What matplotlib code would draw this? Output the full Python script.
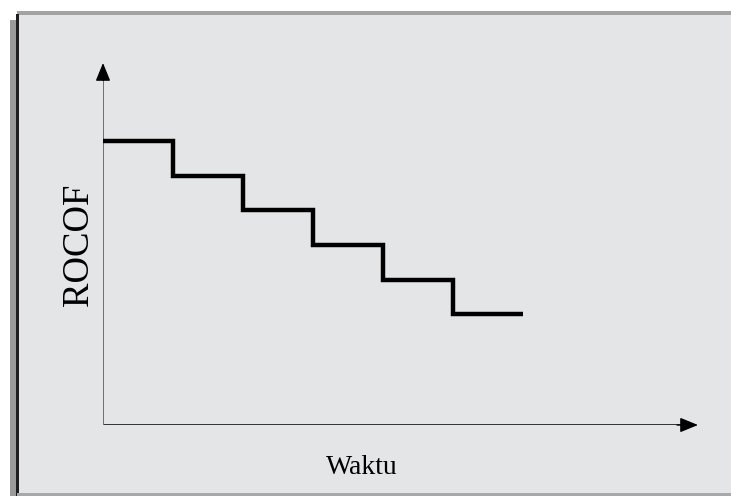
import matplotlib
matplotlib.use("Agg")
import matplotlib.pyplot as plt
from matplotlib.patches import Rectangle

# data: ROCOF turun bertahap terhadap waktu
waktu = [0, 1, 2, 3, 4, 5, 6]
rocof = [8.2, 7.2, 6.2, 5.2, 4.2, 3.2, 3.2]
x_max = 8.5
y_max = 10.45

W, H = 731, 496
fig = plt.figure(figsize=(W / 100, H / 100), dpi=100)
fig.patch.set_facecolor("white")

# latar panel abu-abu dengan bayangan
bg = fig.add_axes([0, 0, 1, 1])
bg.set_xlim(0, W)
bg.set_ylim(H, 0)
bg.axis("off")
bg.add_patch(Rectangle((10, 20), 7, H - 20, color="#9a9a9a", lw=0))
bg.add_patch(Rectangle((17, 13), W - 17, H - 13, color="#e4e5e6", lw=0))
bg.add_patch(Rectangle((17, 11), W - 17, 4, color="#a3a3a3", lw=0))
bg.add_patch(Rectangle((16, 14), 2.5, H - 14, color="#1e1e1e", lw=0))
bg.add_patch(Rectangle((17, 493), W - 17, 3, color="#a8a8a8", lw=0))

# area grafik
ax = fig.add_axes([103 / W, 71 / H, 595 / W, 362 / H])
ax.set_xlim(0, x_max)
ax.set_ylim(0, y_max)
ax.axis("off")
ax.patch.set_alpha(0)

# sumbu: garis lalu kepala panah hitam
ax.plot([0, x_max * 0.98], [0, 0], color="#333333", lw=1.4)
ax.plot([0, 0], [0, y_max * 0.97], color="#707070", lw=1.4)
head = "-|>,head_length=1.1,head_width=0.45"
ax.annotate("", xy=(x_max, 0), xytext=(x_max - 0.3, 0),
            arrowprops=dict(arrowstyle=head, color="black", lw=1.0,
                            shrinkA=0, shrinkB=0))
ax.annotate("", xy=(0, y_max), xytext=(0, y_max - 0.5),
            arrowprops=dict(arrowstyle=head, color="black", lw=1.0,
                            shrinkA=0, shrinkB=0))

ax.step(waktu, rocof, where="post", color="black", lw=3.2,
        solid_joinstyle="miter", solid_capstyle="butt")

fig.text(362 / W, 1 - 467 / H, "Waktu", family="Liberation Serif",
         fontsize=20, ha="center", va="center")
fig.text(79 / W, 1 - 245 / H, "ROCOF", family="Liberation Serif",
         fontsize=26.5, rotation=90, ha="center", va="center")

fig.savefig("out.png", dpi=100)
